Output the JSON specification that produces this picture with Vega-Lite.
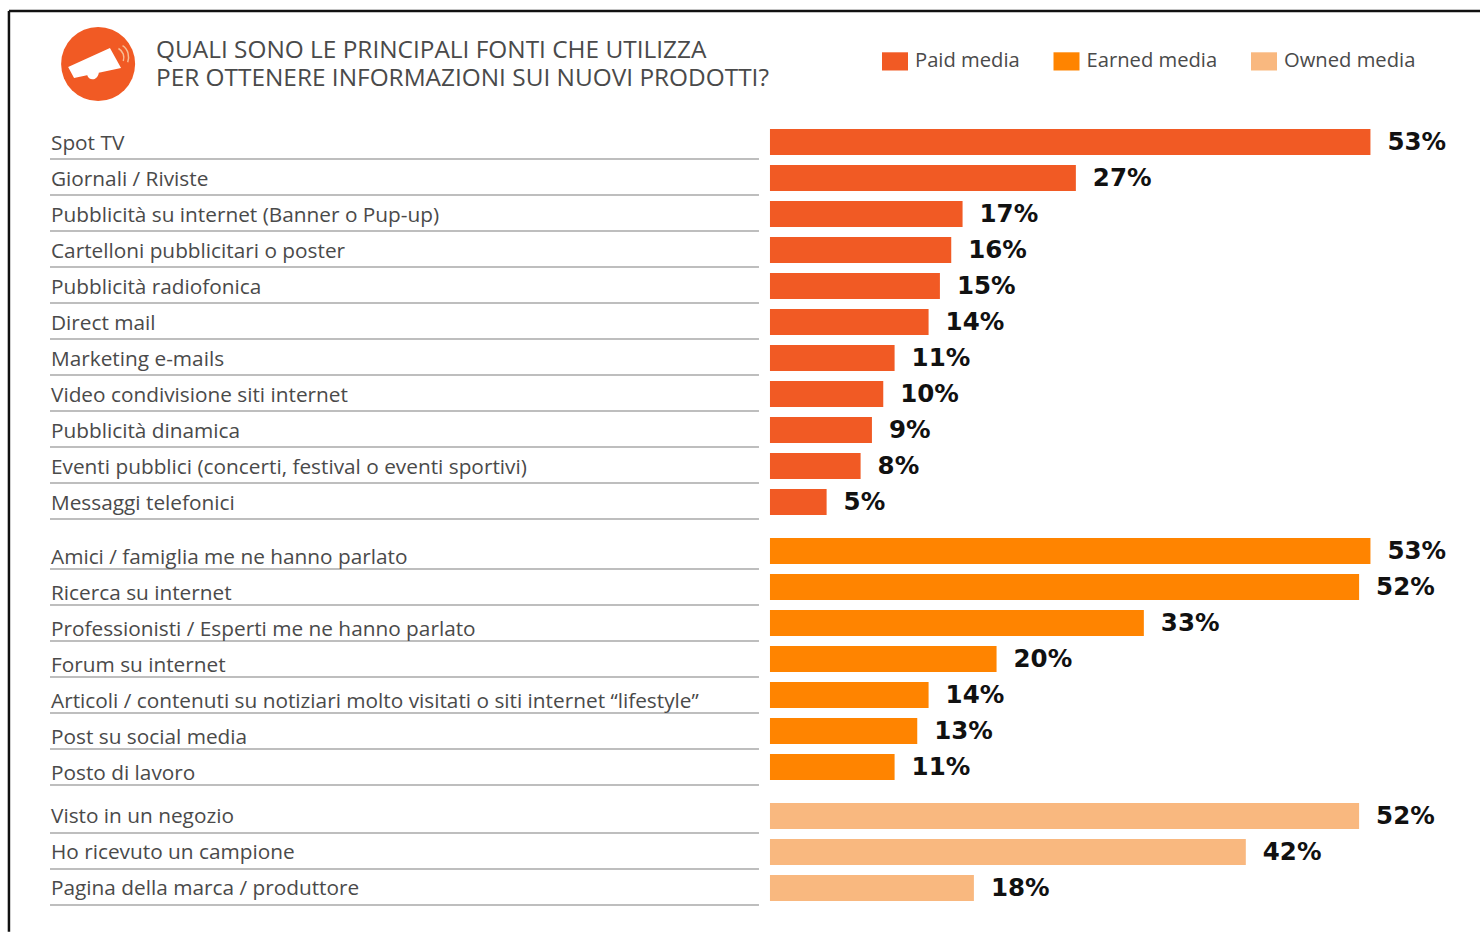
{
  "$schema": "https://vega.github.io/schema/vega-lite/v6.json",
  "background": "white",
  "padding": 0,
  "bounds": "flush",
  "spacing": 13,
  "config": {
    "view": {"stroke": null},
    "font": "Open Sans",
    "title": {"font": "Open Sans", "fontWeight": "normal", "color": "#4a4a4a"}
  },
  "datasets": {
    "sources": [
      {"source": "Spot TV", "media": "Paid media", "share": 0.53},
      {"source": "Giornali / Riviste", "media": "Paid media", "share": 0.27},
      {"source": "Pubblicità su internet (Banner o Pup-up)", "media": "Paid media", "share": 0.17},
      {"source": "Cartelloni pubblicitari o poster", "media": "Paid media", "share": 0.16},
      {"source": "Pubblicità radiofonica", "media": "Paid media", "share": 0.15},
      {"source": "Direct mail", "media": "Paid media", "share": 0.14},
      {"source": "Marketing e-mails", "media": "Paid media", "share": 0.11},
      {"source": "Video condivisione siti internet", "media": "Paid media", "share": 0.10},
      {"source": "Pubblicità dinamica", "media": "Paid media", "share": 0.09},
      {"source": "Eventi pubblici (concerti, festival o eventi sportivi)", "media": "Paid media", "share": 0.08},
      {"source": "Messaggi telefonici", "media": "Paid media", "share": 0.05},
      {"source": "Amici / famiglia me ne hanno parlato", "media": "Earned media", "share": 0.53},
      {"source": "Ricerca su internet", "media": "Earned media", "share": 0.52},
      {"source": "Professionisti / Esperti me ne hanno parlato", "media": "Earned media", "share": 0.33},
      {"source": "Forum su internet", "media": "Earned media", "share": 0.20},
      {"source": "Articoli / contenuti su notiziari molto visitati o siti internet “lifestyle”", "media": "Earned media", "share": 0.14},
      {"source": "Post su social media", "media": "Earned media", "share": 0.13},
      {"source": "Posto di lavoro", "media": "Earned media", "share": 0.11},
      {"source": "Visto in un negozio", "media": "Owned media", "share": 0.52},
      {"source": "Ho ricevuto un campione", "media": "Owned media", "share": 0.42},
      {"source": "Pagina della marca / produttore", "media": "Owned media", "share": 0.18}
    ],
    "kinds": [
      {"media": "Paid media"},
      {"media": "Earned media"},
      {"media": "Owned media"}
    ]
  },
  "vconcat": [
    {
      "width": 1480,
      "height": 110,
      "title": {
        "text": ["QUALI SONO LE PRINCIPALI FONTI CHE UTILIZZA", "PER OTTENERE INFORMAZIONI SUI NUOVI PRODOTTI?"],
        "anchor": "start",
        "frame": "group",
        "orient": "top",
        "dx": 156,
        "offset": -91,
        "fontSize": 24.4,
        "lineHeight": 28
      },
      "encoding": {
        "x": {"datum": -0.593, "type": "quantitative", "scale": {"domain": [-0.6796, 0.6267], "nice": false, "zero": false}, "axis": null},
        "y": {"datum": 0.418, "type": "quantitative", "scale": {"domain": [0, 1], "nice": false}, "axis": null}
      },
      "layer": [
        {
          "data": {"name": "kinds"},
          "mark": {"type": "point", "filled": true, "opacity": 0},
          "encoding": {
            "color": {
              "field": "media",
              "type": "nominal",
              "sort": null,
              "scale": {
                "domain": ["Paid media", "Earned media", "Owned media"],
                "range": ["#f15a24", "#ff8400", "#f9b87f"]
              },
              "legend": {
                "title": null,
                "orient": "none",
                "legendX": 882,
                "legendY": 48,
                "direction": "horizontal",
                "columns": 3,
                "columnPadding": 33.5,
                "symbolType": "M-1,-0.7H1V0.7H-1Z",
                "symbolSize": 676,
                "symbolOpacity": 1,
                "symbolStrokeWidth": 0,
                "labelFont": "Open Sans",
                "labelFontSize": 20.2,
                "labelColor": "#4a4a4a",
                "labelOffset": 7
              }
            }
          }
        },
        {
          "data": {"values": [{"part": "badge"}]},
          "mark": {"type": "point", "shape": "circle", "filled": true, "opacity": 1, "size": 5476, "color": "#f15a24"}
        },
        {
          "data": {"values": [{"part": "megaphone"}]},
          "mark": {
            "type": "point",
            "filled": true,
            "opacity": 1,
            "size": 5476,
            "color": "white",
            "shape": "M-0.81,0.08L0.32,-0.43L0.62,0.11L-0.65,0.38ZM-0.3,0.28L0.02,0.22C0,0.45,-0.25,0.48,-0.3,0.28Z"
          }
        },
        {
          "data": {"values": [{"part": "sound"}]},
          "mark": {
            "type": "point",
            "filled": false,
            "opacity": 0.8,
            "size": 5476,
            "strokeWidth": 1.5,
            "color": "#f9d7b0",
            "shape": "M0.55,-0.42C0.68,-0.35,0.72,-0.2,0.68,-0.08M0.66,-0.5C0.82,-0.4,0.85,-0.2,0.8,-0.05"
          }
        },
        {
          "data": {"values": [{"part": "frame-top"}]},
          "mark": {"type": "rule", "color": "#111111", "strokeWidth": 2.5},
          "encoding": {
            "x": {"datum": -0.6717, "type": "quantitative"},
            "x2": {"datum": 0.6267},
            "y": {"datum": 0.9, "type": "quantitative"}
          }
        },
        {
          "data": {"values": [{"part": "frame-left"}]},
          "mark": {"type": "rule", "color": "#111111", "strokeWidth": 2.5},
          "encoding": {
            "x": {"datum": -0.6717, "type": "quantitative"},
            "y": {"datum": 0.9, "type": "quantitative"},
            "y2": {"datum": -7.47}
          }
        }
      ]
    },
    {
      "width": 1480,
      "height": 396,
      "data": {"name": "sources"},
      "transform": [{"filter": "datum.media === 'Paid media'"}],
      "encoding": {
        "y": {"field": "source", "type": "nominal", "sort": null, "axis": null, "scale": {"paddingInner": 0, "paddingOuter": 0}}
      },
      "layer": [
        {
          "mark": {"type": "rule", "color": "#a8a8a8", "strokeWidth": 1.5},
          "encoding": {
            "x": {"datum": -0.6355, "type": "quantitative", "scale": {"domain": [-0.6796, 0.6267], "nice": false, "zero": false}, "axis": null},
            "x2": {"datum": -0.0097},
            "y": {"field": "source", "type": "nominal", "sort": null, "bandPosition": 1, "axis": null}
          }
        },
        {
          "mark": {"type": "text", "align": "left", "baseline": "middle", "dy": 3, "fontSize": 20.8, "font": "Open Sans", "color": "#4a4a4a"},
          "encoding": {
            "x": {"datum": -0.6346, "type": "quantitative"},
            "text": {"field": "source"}
          }
        },
        {
          "mark": {"type": "bar", "size": 26, "yOffset": 1, "orient": "horizontal"},
          "encoding": {
            "x": {"field": "share", "type": "quantitative"},
            "color": {"field": "media", "type": "nominal", "legend": null, "scale": {"domain": ["Paid media", "Earned media", "Owned media"], "range": ["#f15a24", "#ff8400", "#f9b87f"]}}
          }
        },
        {
          "mark": {"type": "text", "align": "left", "baseline": "middle", "dx": 17, "dy": 2, "fontSize": 24.5, "font": "DejaVu Sans", "fontWeight": "bold", "color": "#111111"},
          "encoding": {
            "x": {"field": "share", "type": "quantitative"},
            "text": {"field": "share", "type": "quantitative", "format": ".0%"}
          }
        }
      ]
    },
    {
      "width": 1480,
      "height": 252,
      "data": {"name": "sources"},
      "transform": [{"filter": "datum.media === 'Earned media'"}],
      "encoding": {
        "y": {"field": "source", "type": "nominal", "sort": null, "axis": null, "scale": {"paddingInner": 0, "paddingOuter": 0}}
      },
      "layer": [
        {
          "mark": {"type": "rule", "color": "#a8a8a8", "strokeWidth": 1.5, "yOffset": 1},
          "encoding": {
            "x": {"datum": -0.6355, "type": "quantitative", "scale": {"domain": [-0.6796, 0.6267], "nice": false, "zero": false}, "axis": null},
            "x2": {"datum": -0.0097},
            "y": {"field": "source", "type": "nominal", "sort": null, "bandPosition": 1, "axis": null}
          }
        },
        {
          "mark": {"type": "text", "align": "left", "baseline": "middle", "dy": 8, "fontSize": 20.8, "font": "Open Sans", "color": "#4a4a4a"},
          "encoding": {
            "x": {"datum": -0.6346, "type": "quantitative"},
            "text": {"field": "source"}
          }
        },
        {
          "mark": {"type": "bar", "size": 26, "yOffset": 1, "orient": "horizontal"},
          "encoding": {
            "x": {"field": "share", "type": "quantitative"},
            "color": {"field": "media", "type": "nominal", "legend": null, "scale": {"domain": ["Paid media", "Earned media", "Owned media"], "range": ["#f15a24", "#ff8400", "#f9b87f"]}}
          }
        },
        {
          "mark": {"type": "text", "align": "left", "baseline": "middle", "dx": 17, "dy": 2, "fontSize": 24.5, "font": "DejaVu Sans", "fontWeight": "bold", "color": "#111111"},
          "encoding": {
            "x": {"field": "share", "type": "quantitative"},
            "text": {"field": "share", "type": "quantitative", "format": ".0%"}
          }
        }
      ]
    },
    {
      "width": 1480,
      "height": 108,
      "data": {"name": "sources"},
      "transform": [{"filter": "datum.media === 'Owned media'"}],
      "encoding": {
        "y": {"field": "source", "type": "nominal", "sort": null, "axis": null, "scale": {"paddingInner": 0, "paddingOuter": 0}}
      },
      "layer": [
        {
          "mark": {"type": "rule", "color": "#a8a8a8", "strokeWidth": 1.5},
          "encoding": {
            "x": {"datum": -0.6355, "type": "quantitative", "scale": {"domain": [-0.6796, 0.6267], "nice": false, "zero": false}, "axis": null},
            "x2": {"datum": -0.0097},
            "y": {"field": "source", "type": "nominal", "sort": null, "bandPosition": 1, "axis": null}
          }
        },
        {
          "mark": {"type": "text", "align": "left", "baseline": "middle", "dy": 2, "fontSize": 20.8, "font": "Open Sans", "color": "#4a4a4a"},
          "encoding": {
            "x": {"datum": -0.6346, "type": "quantitative"},
            "text": {"field": "source"}
          }
        },
        {
          "mark": {"type": "bar", "size": 26, "yOffset": 1, "orient": "horizontal"},
          "encoding": {
            "x": {"field": "share", "type": "quantitative"},
            "color": {"field": "media", "type": "nominal", "legend": null, "scale": {"domain": ["Paid media", "Earned media", "Owned media"], "range": ["#f15a24", "#ff8400", "#f9b87f"]}}
          }
        },
        {
          "mark": {"type": "text", "align": "left", "baseline": "middle", "dx": 17, "dy": 2, "fontSize": 24.5, "font": "DejaVu Sans", "fontWeight": "bold", "color": "#111111"},
          "encoding": {
            "x": {"field": "share", "type": "quantitative"},
            "text": {"field": "share", "type": "quantitative", "format": ".0%"}
          }
        }
      ]
    }
  ]
}
